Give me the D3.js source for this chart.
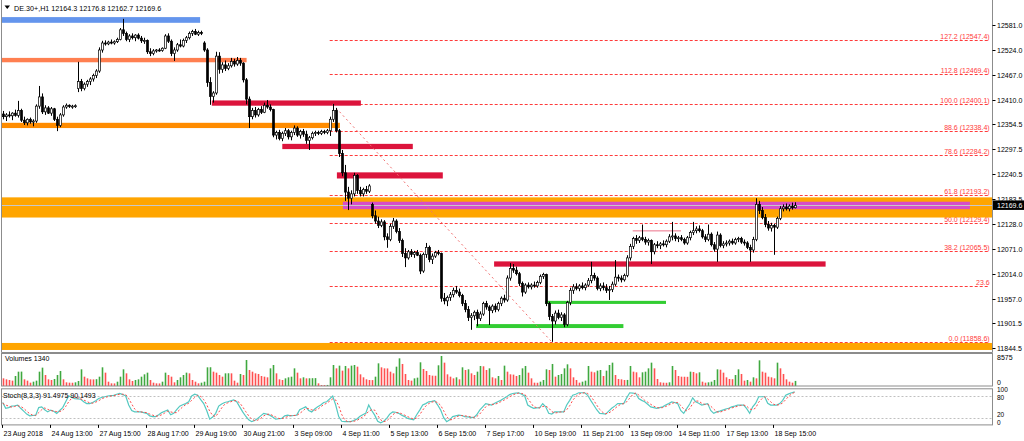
<!DOCTYPE html>
<html>
<head>
<meta charset="utf-8">
<script src="https://cdn.jsdelivr.net/npm/d3@7"></script>
<style>
body { margin: 0; background: #fff; }
svg { display: block; font-family: "Liberation Sans", Arial, sans-serif; }
</style>
</head>
<body>
<div id="chart"></div>
<script>
// DE.30+ H1 bars: [open, high, low, close]
var bars = [
[12378,12385,12366,12372],[12372,12380,12362,12376],[12376,12384,12370,12374],[12374,12382,12364,12380],[12380,12388,12372,12375],
[12375,12408,12370,12386],[12386,12390,12360,12364],[12364,12372,12353,12358],[12358,12368,12352,12366],[12366,12370,12356,12360],
[12360,12366,12350,12362],[12362,12400,12358,12396],[12396,12442,12390,12417],[12417,12425,12378,12383],[12383,12398,12376,12392],
[12392,12396,12378,12380],[12380,12394,12374,12390],[12390,12392,12362,12366],[12366,12372,12339,12352],[12352,12380,12348,12376],
[12376,12398,12372,12394],[12394,12402,12390,12398],[12398,12400,12392,12395],[12395,12399,12390,12396],[12396,12400,12392,12397],
[12436,12497,12428,12452],[12452,12458,12430,12436],[12436,12450,12432,12446],[12446,12456,12440,12452],[12452,12462,12444,12458],
[12458,12470,12452,12466],[12466,12480,12460,12476],[12476,12530,12472,12524],[12524,12545,12518,12540],[12540,12546,12534,12538],
[12538,12545,12535,12542],[12542,12548,12537,12540],[12540,12546,12536,12543],[12543,12552,12540,12548],[12548,12574,12546,12570],
[12570,12595,12556,12562],[12562,12566,12544,12548],[12548,12560,12542,12556],[12556,12562,12548,12552],[12552,12560,12544,12558],
[12558,12562,12548,12551],[12551,12556,12540,12545],[12545,12552,12538,12546],[12546,12548,12515,12520],[12520,12528,12510,12516],
[12516,12526,12512,12522],[12522,12526,12518,12524],[12524,12528,12520,12523],[12523,12530,12520,12528],[12528,12560,12526,12556],
[12556,12562,12540,12544],[12544,12548,12510,12516],[12516,12530,12499,12524],[12524,12540,12520,12536],[12536,12548,12530,12533],
[12533,12550,12530,12546],[12546,12556,12540,12552],[12552,12566,12548,12562],[12562,12570,12556,12566],[12566,12572,12558,12560],
[12560,12568,12556,12564],[12564,12568,12558,12562],[12540,12544,12520,12524],[12524,12528,12440,12450],[12450,12462,12399,12418],
[12418,12430,12404,12426],[12426,12520,12422,12510],[12510,12519,12470,12480],[12480,12496,12472,12490],[12490,12500,12476,12482],
[12482,12494,12478,12488],[12488,12506,12484,12498],[12498,12504,12486,12492],[12492,12508,12488,12500],[12500,12506,12488,12494],
[12494,12496,12450,12456],[12456,12460,12400,12412],[12412,12418,12346,12372],[12372,12392,12366,12386],[12386,12394,12370,12376],
[12376,12392,12372,12388],[12388,12396,12378,12382],[12382,12404,12380,12398],[12398,12410,12390,12394],[12394,12400,12384,12388],
[12388,12390,12325,12330],[12330,12340,12320,12336],[12336,12342,12318,12322],[12322,12338,12316,12334],[12334,12346,12328,12340],
[12340,12344,12320,12326],[12326,12340,12318,12336],[12336,12352,12330,12346],[12346,12350,12326,12330],[12330,12342,12322,12338],
[12338,12344,12326,12332],[12332,12340,12310,12318],[12318,12328,12296,12324],[12324,12338,12320,12334],[12334,12340,12328,12336],
[12336,12340,12330,12334],[12334,12342,12330,12338],[12338,12342,12332,12336],[12336,12344,12332,12340],[12340,12372,12328,12366],
[12366,12401,12360,12386],[12386,12392,12336,12340],[12340,12344,12280,12288],[12288,12296,12236,12244],[12244,12262,12180,12200],
[12200,12212,12159,12186],[12186,12204,12172,12196],[12196,12244,12190,12238],[12238,12241,12196,12204],[12204,12212,12190,12196],
[12196,12210,12190,12206],[12206,12214,12196,12202],[12202,12218,12198,12214],[12172,12176,12140,12146],[12146,12158,12128,12134],
[12134,12144,12118,12124],[12124,12138,12120,12132],[12132,12136,12090,12098],[12098,12106,12073,12092],[12092,12128,12088,12122],
[12122,12141,12116,12134],[12134,12138,12106,12110],[12110,12118,12084,12090],[12090,12094,12052,12060],[12060,12072,12029,12050],
[12050,12068,12046,12064],[12064,12070,12052,12058],[12058,12066,12050,12062],[12062,12068,12054,12056],[12056,12060,12013,12020],
[12020,12062,12016,12058],[12058,12084,12050,12074],[12074,12078,12040,12046],[12046,12060,12036,12054],[12054,12066,12050,12062],
[12062,12068,12056,12060],[12060,12062,11950,11958],[11958,11970,11944,11952],[11952,11964,11940,11960],[11960,11972,11952,11966],
[11966,11982,11960,11976],[11976,11986,11968,11972],[11972,11980,11960,11964],[11964,11968,11940,11946],[11946,11954,11926,11932],
[11932,11940,11906,11914],[11914,11924,11886,11918],[11918,11930,11908,11926],[11926,11932,11894,11912],[11912,11928,11906,11922],
[11922,11950,11918,11946],[11946,11952,11932,11938],[11938,11942,11897,11930],[11930,11944,11924,11940],[11940,11946,11926,11932],
[11932,11950,11928,11946],[11946,11962,11940,11958],[11958,11966,11948,11954],[11954,12010,11950,12004],[12004,12038,11998,12026],
[12026,12036,12016,12022],[12022,12030,12010,12014],[12014,12018,11986,11992],[11992,11996,11962,11972],[11972,11992,11968,11988],
[11988,11994,11980,11984],[11984,11992,11978,11988],[11988,11996,11982,11986],[11986,11998,11982,11994],[11994,12012,11990,12008],
[12008,12016,12002,12012],[12012,12014,11940,11946],[11946,11950,11908,11916],[11916,11922,11858.6,11906],[11906,11930,11898,11924],
[11924,11932,11910,11914],[11914,11926,11906,11920],[11920,11924,11892,11898],[11898,11952,11894,11948],[11948,11982,11942,11976],
[11976,11990,11968,11984],[11984,11992,11976,11980],[11980,11990,11974,11986],[11986,11994,11978,11982],[11982,11992,11976,11988],
[11988,12004,11984,11998],[11998,12041,11992,12010],[12010,12016,11998,12004],[12004,12008,11976,11980],[11980,11992,11974,11986],
[11986,11994,11976,11982],[11982,11990,11970,11976],[11976,11986,11954,11978],[11978,11996,11972,11990],[11990,12045,11986,12006],
[12006,12012,11996,12004],[12004,12010,11994,12000],[12000,12014,11996,12010],[12010,12056,12006,12050],[12050,12082,12044,12076],
[12076,12098,12070,12094],[12094,12102,12082,12090],[12090,12100,12084,12096],[12096,12126,12088,12092],[12092,12098,12080,12086],
[12086,12094,12078,12090],[12090,12092,12036,12064],[12064,12084,12058,12080],[12080,12088,12072,12078],[12078,12086,12070,12082],
[12082,12090,12076,12080],[12080,12092,12074,12088],[12088,12104,12084,12098],[12098,12132,12090,12100],[12100,12106,12088,12094],
[12094,12100,12086,12096],[12096,12102,12088,12092],[12092,12096,12080,12084],[12084,12100,12080,12096],[12096,12112,12090,12108],
[12108,12132,12102,12112],[12112,12122,12106,12116],[12116,12124,12108,12112],[12112,12116,12094,12098],[12098,12104,12086,12092],
[12092,12126,12088,12104],[12104,12108,12076,12080],[12080,12086,12064,12070],[12070,12110,12041,12102],[12102,12106,12074,12078],
[12078,12088,12072,12082],[12082,12090,12076,12084],[12084,12092,12078,12088],[12088,12094,12080,12084],[12084,12096,12080,12092],
[12092,12098,12086,12094],[12094,12098,12082,12086],[12086,12092,12078,12084],[12084,12088,12070,12074],[12074,12080,12041,12068],
[12068,12098,12062,12092],[12092,12186,12088,12172],[12172,12180,12150,12158],[12158,12166,12138,12142],[12142,12150,12120,12126],
[12126,12134,12112,12118],[12118,12130,12110,12124],[12124,12128,12057,12120],[12120,12144,12116,12140],[12140,12168,12136,12162],
[12162,12172,12156,12166],[12166,12174,12158,12162],[12162,12172,12156,12168],[12168,12176,12160,12164],[12164.3,12176.8,12162.7,12169.6]
];

var volumes = [
2020,1760,1580,1410,2640,3780,3800,1760,1410,880,
1140,1410,3780,4840,2900,1760,1580,1850,2900,3960,
1760,970,880,860,970,1320,4400,2460,2020,1760,
1740,1800,2460,4930,3520,1140,700,680,1140,2460,
4400,3340,1760,1320,1580,1760,2460,3080,3520,1580,
880,700,680,1140,3520,2900,2460,970,1580,2290,
2900,3520,3340,1580,1140,700,880,1140,4930,4950,
3780,3520,2900,2460,3340,3360,3340,1410,880,3170,
2900,6860,4220,3780,3340,3170,2640,2460,2290,4660,
5540,3340,1760,1580,2020,2290,2460,4660,3520,2020,
2290,2020,2040,2060,2080,700,260,250,280,2290,
5540,4660,5370,4050,5280,4660,5370,5540,5100,3080,
2290,1760,1580,1560,2460,5980,4930,4660,4640,3780,
3340,5100,7300,
5810,3170,1580,1410,2020,2200,6250,4490,3960,2900,
2730,2700,5460,7920,6160,3080,2460,2020,2290,1760,
4930,4220,4400,3340,2900,3780,5280,5200,4220,4660,
2290,2020,2640,1580,5370,3780,3080,3000,2640,2900,
4660,5280,3520,2020,880,850,1140,1580,4400,4220,
5810,2460,2900,3170,4660,5720,4660,2290,1580,880,
1140,1410,5280,3780,3610,4050,4220,2640,4050,5540,
6160,2900,1850,1760,1580,1600,5280,3780,3610,2290,
3610,3780,4660,6160,4660,1850,970,880,850,970,
5280,4220,2640,2460,2440,2420,3780,3700,3340,3610,
1140,880,970,1140,1580,4400,4300,3520,2290,1850,
1800,2900,4400,3170,1410,1580,1140,2290,2020,6770,
3780,3520,2460,2290,2020,6160,4660,3170,1760,1140,
880,1340
];

var stochMain = [
62,46,48,52,53,55,46,38,30,25, 26,27,48,50,42,36,41,38,32,40,
48,64,80,77,73,72,71,64,59,59, 62,67,73,76,78,80,81,82,85,87,
84,80,55,40,36,36,36,34,32,25, 23,23,28,34,38,41,28,32,42,52,
56,59,64,80,85,82,70,59,40,16, 22,32,52,58,62,64,67,69,64,50,
36,24,14,9,12,18,25,32,30,27, 22,16,17,18,25,27,25,26,27,42,
46,50,40,36,44,50,55,62,64,72, 80,55,23,10,9,9,9,12,16,23,
28,32,55,40,27,10,6,10,18,30, 36,35,32,27,23,18,16,14,28,41,
55,59,64,65,67,55,41,20,9,14, 23,25,27,26,23,22,21,20,28,41,
50,59,57,55,60,64,68,73,78,84, 87,88,89,85,80,55,50,46,47,48,
59,50,32,30,36,36,36,36,55,68, 82,85,89,89,89,82,68,55,42,32,
31,30,38,46,52,59,59,59,75,89, 88,87,73,68,64,57,50,48,46,48,
50,55,59,64,62,59,40,32,45,58, 75,64,60,55,57,59,40,32,36,38,
41,44,46,50,52,55,55,55,45,32, 50,60,78,78,78,60,55,55,55,59,
68,82,86,89,91.4975
];

var stochSignal = [
60,55,52,49,51,53,51,46,38,31, 27,26,34,42,47,43,40,38,37,37,
40,51,64,74,77,74,72,69,65,61, 60,63,67,72,76,78,80,81,83,85,
85,84,73,58,44,37,36,35,34,30, 27,24,25,28,33,38,36,34,34,42,
50,56,60,68,76,82,79,70,56,38, 26,23,35,47,57,61,64,67,67,61,
50,37,25,16,12,13,18,25,29,30, 26,22,18,17,20,23,26,26,26,32,
38,46,45,42,40,43,50,56,60,66, 72,69,53,29,14,9,9,10,12,17,
22,28,38,42,41,26,14,9,11,19, 28,34,34,31,27,23,19,16,19,28,
41,52,59,63,65,62,54,39,23,14, 15,21,25,26,25,24,22,21,23,30,
40,50,55,57,57,60,64,68,73,78, 83,86,88,87,85,73,62,50,48,47,
51,52,47,37,33,34,36,36,42,53, 68,78,85,88,89,87,80,68,55,43,
35,31,33,38,45,52,57,59,64,74, 84,88,83,76,68,63,57,52,48,47,
48,51,55,59,62,62,54,44,39,45, 59,66,66,60,57,57,52,44,36,35,
38,41,44,47,49,52,54,55,52,44, 42,47,63,72,78,72,64,57,55,56,
61,70,79,86,90.1493
];

var priceTicks = [12581.0, 12524.0, 12467.0, 12410.0, 12354.5, 12297.5, 12240.5, 12183.5,
                  12128.0, 12071.0, 12014.0, 11957.0, 11901.5, 11844.5];
var volumeTicks = [8575, 0];
var stochTicks = [100, 80, 20, 0];

var dateTicks = [0, 16, 32, 48, 64, 80, 97, 113, 129, 145, 161, 177, 193, 209, 225, 241, 257];
var dateLabels = ["23 Aug 2018", "24 Aug 13:00", "27 Aug 15:00", "28 Aug 17:00", "29 Aug 19:00",
                  "30 Aug 21:00", "3 Sep 09:00", "4 Sep 11:00", "5 Sep 13:00", "6 Sep 15:00",
                  "7 Sep 17:00", "10 Sep 19:00", "11 Sep 21:00", "13 Sep 09:00", "14 Sep 11:00",
                  "17 Sep 13:00", "18 Sep 15:00"];

var fibPrices = [12547.4, 12469.4, 12400.1, 12338.4, 12284.2, 12193.2, 12129.4, 12065.5, 11986.4, 11858.6];
var fibLabels = ["127.2 (12547.4)", "112.8 (12469.4)", "100.0 (12400.1)", "88.6 (12338.4)", "78.6 (12284.2)",
                 "61.8 (12193.2)", "50.0 (12129.4)", "38.2 (12065.5)", "23.6", "0.0 (11858.6)"];
var fibSpan = [109, 329];     // bar range of the level lines
var fibAnchor = [110, 183];   // bars of the 100 and 0 points

// rectangles drawn on the chart: bar range and price range
var zones = [
  {from: -1, to: 65.8, hi: 12599, lo: 12586},
  {from: -1, to: 81.3, hi: 12506, lo: 12496},
  {from: 69.7, to: 119.4, hi: 12409, lo: 12397},
  {from: -1, to: 112.4, hi: 12358, lo: 12346},
  {from: 93.2, to: 136.7, hi: 12310, lo: 12298},
  {from: 111.4, to: 146.7, hi: 12245, lo: 12231},
  {from: -2, to: 332, hi: 12188, lo: 12142},
  {from: 113.4, to: 322.4, hi: 12178, lo: 12161},
  {from: 163.8, to: 274.3, hi: 12042, lo: 12030},
  {from: 180.8, to: 221.1, hi: 11952, lo: 11945},
  {from: 157.8, to: 206.9, hi: 11899, lo: 11890},
  {from: -2, to: 332, hi: 11856, lo: 11840},
  {from: 210, to: 226.1, hi: 12113.5, lo: 12110}
];
var zoneColors = ["#6495ed", "#ff7f50", "#dc143c", "#ff8c00", "#dc143c", "#dc143c", "#ffa500",
                  "#d64fc8", "#dc143c", "#32cd32", "#32cd32", "#ffa500", "#f3a3b3"];

var lastBar = bars[bars.length - 1];

var W = 1024, H = 441;
var left = 1.5, right = 992.5;
var mainTop = 0, mainBottom = 352.5;
var volTop = 353.5, volBottom = 386;
var stTop = 388.8, stBottom = 424.9;

var svg = d3.select("#chart")
    .append("svg")
    .attr("width", W)
    .attr("height", H);

svg.append("rect").attr("width", W).attr("height", H).attr("fill", "#fff");

var x = d3.scaleLinear().domain([0, bars.length - 1]).range([2.7, 2.7 + 3 * (bars.length - 1)]);
var y = d3.scaleLinear().domain([11844.5, 12581]).range([348, 25]);
var yv = d3.scaleLinear().domain([0, 8575]).range([volBottom, volTop]);
var ys = d3.scaleLinear().domain([0, 100]).range([stBottom, stTop]);

svg.append("clipPath").attr("id", "clipMain")
  .append("rect").attr("x", left).attr("y", mainTop).attr("width", right - left).attr("height", mainBottom - mainTop);

var main = svg.append("g").attr("clip-path", "url(#clipMain)");

// fibonacci levels
main.selectAll(".fib")
  .data(fibPrices)
  .enter()
  .append("line")
    .attr("x1", x(fibSpan[0]))
    .attr("x2", x(fibSpan[1]))
    .attr("y1", function(d) { return Math.round(y(d)) + 0.5; })
    .attr("y2", function(d) { return Math.round(y(d)) + 0.5; })
    .attr("stroke", "#ff3b3b")
    .attr("stroke-width", 1)
    .attr("stroke-dasharray", "3,2");

main.selectAll(".fibText")
  .data(fibPrices)
  .enter()
  .append("text")
    .attr("x", x(fibSpan[1]))
    .attr("y", function(d) { return Math.round(y(d)) - 1; })
    .attr("text-anchor", "end")
    .attr("font-size", "7px")
    .attr("fill", "#ff3b3b")
    .text(function(d, i) { return fibLabels[i]; });

// rectangles
main.selectAll(".zone")
  .data(zones)
  .enter()
  .append("rect")
    .attr("x", function(d) { return x(d.from); })
    .attr("width", function(d) { return x(d.to) - x(d.from); })
    .attr("y", function(d) { return y(d.hi); })
    .attr("height", function(d) { return y(d.lo) - y(d.hi); })
    .attr("fill", function(d, i) { return zoneColors[i]; });

// fibo trend line
main.append("line")
  .attr("x1", x(fibAnchor[0]))
  .attr("y1", y(fibPrices[2]))
  .attr("x2", x(fibAnchor[1]))
  .attr("y2", y(fibPrices[9]))
  .attr("stroke", "#f07070")
  .attr("stroke-width", 1)
  .attr("stroke-dasharray", "2,3");

// bid line
main.append("line")
  .attr("x1", left).attr("x2", right)
  .attr("y1", Math.round(y(lastBar[3])) + 0.5)
  .attr("y2", Math.round(y(lastBar[3])) + 0.5)
  .attr("stroke", "#c8c8c8")
  .attr("stroke-width", 1);

// candles
var candle = main.selectAll(".candle")
  .data(bars)
  .enter()
  .append("g");

candle.append("line")
  .attr("x1", function(d, i) { return Math.round(x(i)) + 0.5; })
  .attr("x2", function(d, i) { return Math.round(x(i)) + 0.5; })
  .attr("y1", function(d) { return y(d[1]); })
  .attr("y2", function(d) { return y(d[2]); })
  .attr("stroke", "#000")
  .attr("stroke-width", 1);

candle.append("rect")
  .attr("x", function(d, i) { return Math.round(x(i)) - 0.5; })
  .attr("width", 2)
  .attr("y", function(d) { return y(Math.max(d[0], d[3])); })
  .attr("height", function(d) { return Math.max(1, Math.abs(y(d[0]) - y(d[3]))); })
  .attr("fill", function(d) { return d[3] >= d[0] ? "#fff" : "#000"; })
  .attr("stroke", "#000")
  .attr("stroke-width", 0.7);

// volumes
svg.selectAll(".vol")
  .data(volumes)
  .enter()
  .append("rect")
    .attr("x", function(d, i) { return Math.round(x(i)) - 0.3; })
    .attr("width", 1.6)
    .attr("y", function(d) { return yv(d); })
    .attr("height", function(d) { return volBottom - yv(d); })
    .attr("fill", function(d, i) { return (i > 0 && d > volumes[i - 1]) ? "#3fa83f" : "#ff5050"; });

// stochastic
svg.selectAll(".lvl")
  .data([80, 20])
  .enter()
  .append("line")
    .attr("x1", left).attr("x2", right)
    .attr("y1", function(d) { return Math.round(ys(d)) + 0.5; })
    .attr("y2", function(d) { return Math.round(ys(d)) + 0.5; })
    .attr("stroke", "#c0c0c0")
    .attr("stroke-dasharray", "2,2");

var stLine = d3.line()
  .x(function(d, i) { return x(i); })
  .y(function(d) { return ys(d); });

svg.append("path")
  .attr("d", stLine(stochMain))
  .attr("fill", "none")
  .attr("stroke", "#55c9c1")
  .attr("stroke-width", 1.2);

svg.append("path")
  .attr("d", stLine(stochSignal))
  .attr("fill", "none")
  .attr("stroke", "#ff4a4a")
  .attr("stroke-width", 1)
  .attr("stroke-dasharray", "2,2");

// panel frames
svg.append("line").attr("x1", left).attr("x2", left).attr("y1", 0).attr("y2", mainBottom)
  .attr("stroke", "#8c8c8c");
svg.append("line").attr("x1", right).attr("x2", right).attr("y1", 0).attr("y2", mainBottom)
  .attr("stroke", "#8c8c8c");
svg.append("line").attr("x1", left).attr("x2", right).attr("y1", mainBottom).attr("y2", mainBottom)
  .attr("stroke", "#8c8c8c");
svg.append("rect").attr("x", left).attr("y", volTop).attr("width", right - left).attr("height", volBottom - volTop)
  .attr("fill", "none").attr("stroke", "#8c8c8c");
svg.append("rect").attr("x", left).attr("y", stTop).attr("width", right - left).attr("height", stBottom - stTop)
  .attr("fill", "none").attr("stroke", "#8c8c8c");

// price axis
var axis = svg.append("g").attr("font-size", "7px").attr("fill", "#000");
priceTicks.forEach(function(p) {
  var py = Math.round(y(p)) + 0.5;
  axis.append("line").attr("x1", right).attr("x2", right + 3).attr("y1", py).attr("y2", py).attr("stroke", "#000");
  axis.append("text").attr("x", 997).attr("y", py + 2.5).text(p.toFixed(1));
});

// current price box
var by = y(lastBar[3]);
svg.append("rect").attr("x", 993).attr("y", by - 5).attr("width", 31).attr("height", 9.5).attr("fill", "#000");
svg.append("text").attr("x", 997).attr("y", by + 2.5).attr("font-size", "7px").attr("fill", "#fff")
  .text(lastBar[3].toFixed(1));

// sub-window scales (labels pushed apart so the crowded pairs stay readable)
axis.append("text").attr("x", 997).attr("y", yv(volumeTicks[0]) + 6).text(volumeTicks[0]);
axis.append("text").attr("x", 997).attr("y", yv(volumeTicks[1]) - 1.5).text(volumeTicks[1]);
var stochShift = [3, 4, -1, 0.5];
stochTicks.forEach(function(v, i) {
  axis.append("text")
    .attr("x", 997)
    .attr("y", ys(v) + stochShift[i])
    .attr("font-size", "6.5px")
    .text(v);
});

// time axis
dateTicks.forEach(function(t, i) {
  var tx = Math.round(x(t)) - 0.5;
  axis.append("line").attr("x1", tx).attr("x2", tx).attr("y1", stBottom).attr("y2", stBottom + 3).attr("stroke", "#000");
  axis.append("text").attr("x", tx + 1).attr("y", 436).text(dateLabels[i]);
});

// titles
svg.append("path").attr("d", "M4.5,5.5 L10,5.5 L7.25,9 Z").attr("fill", "#000");
svg.append("text").attr("x", 14).attr("y", 10.5).attr("font-size", "7.2px")
  .text("DE.30+,H1  " + lastBar.map(function(v) { return v.toFixed(1); }).join(" "));
svg.append("text").attr("x", 5).attr("y", 361).attr("font-size", "7px")
  .text("Volumes " + volumes[volumes.length - 1]);
svg.append("text").attr("x", 3).attr("y", 398).attr("font-size", "7px")
  .text("Stoch(8,3,3) " + stochMain[stochMain.length - 1].toFixed(4) + " " + stochSignal[stochSignal.length - 1].toFixed(4));
</script>
</body>
</html>
